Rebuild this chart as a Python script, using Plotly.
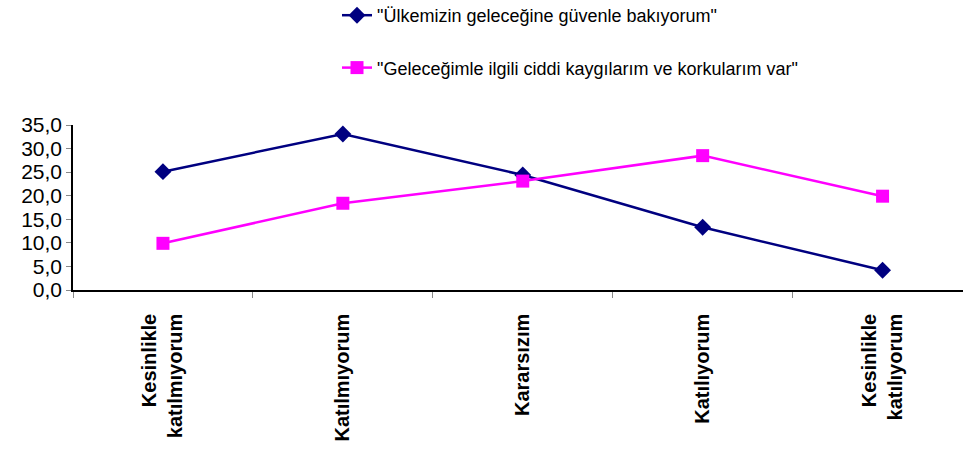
import plotly.graph_objects as go

categories = ["Kesinlikle<br>katılmıyorum", "Katılmıyorum", "Kararsızım", "Katılıyorum", "Kesinlikle<br>katılıyorum"]
series1_name = "\"Ülkemizin geleceğine güvenle bakıyorum\""
series1 = [25.1, 33.1, 24.4, 13.3, 4.2]
series2_name = "\"Geleceğimle ilgili ciddi kaygılarım ve korkularım var\""
series2 = [9.9, 18.4, 23.1, 28.5, 19.9]
y_ticks = [0, 5, 10, 15, 20, 25, 30, 35]

fig = go.Figure()
fig.add_trace(go.Scatter(
    x=categories, y=series1, name=series1_name, mode="lines+markers",
    line=dict(color="#000080", width=2.5),
    marker=dict(symbol="diamond", size=13, color="#000080"),
    legendgroup="a",
))
fig.add_trace(go.Scatter(
    x=categories, y=series2, name=series2_name, mode="lines+markers",
    line=dict(color="#FF00FF", width=2.5),
    marker=dict(symbol="square", size=13, color="#FF00FF"),
    legendgroup="b",
))

W, H = 963, 453
L, R, T, B = 73, 0, 125, 163
fig.update_layout(
    width=W, height=H,
    margin=dict(l=L, r=R, t=T, b=B, autoexpand=False),
    paper_bgcolor="white", plot_bgcolor="white",
    separators=",.",
    font=dict(family="Liberation Sans, Arial, sans-serif", color="black"),
    showlegend=True,
    legend=dict(
        x=(337 - L) / (W - L - R), y=1 + (T + 3) / (H - T - B),
        xanchor="left", yanchor="top",
        font=dict(size=18, color="black"),
        tracegroupgap=26,
        bgcolor="rgba(0,0,0,0)",
    ),
)
fig.update_xaxes(
    type="category",
    range=[-0.5, -0.5 + (961 - L) / 179.5],
    showline=True, linecolor="black", linewidth=1.5,
    ticks="outside", tickson="boundaries", ticklen=6, tickcolor="#888888",
    tickangle=-90, ticklabelstandoff=14,
    tickfont=dict(size=20, family="Liberation Sans, Arial, sans-serif", color="black", weight="bold"),
    showgrid=False, zeroline=False, automargin=False,
)
fig.update_yaxes(
    range=[0, 35], tickvals=y_ticks, tickformat=".1f",
    showline=True, linecolor="black", linewidth=1.5,
    ticks="outside", ticklen=5, tickcolor="#888888",
    tickfont=dict(size=21, color="black"),
    showgrid=False, zeroline=False, automargin=False,
)

fig.write_html("out.html", config={"displayModeBar": False},
               post_script="document.body.style.margin='0';")
